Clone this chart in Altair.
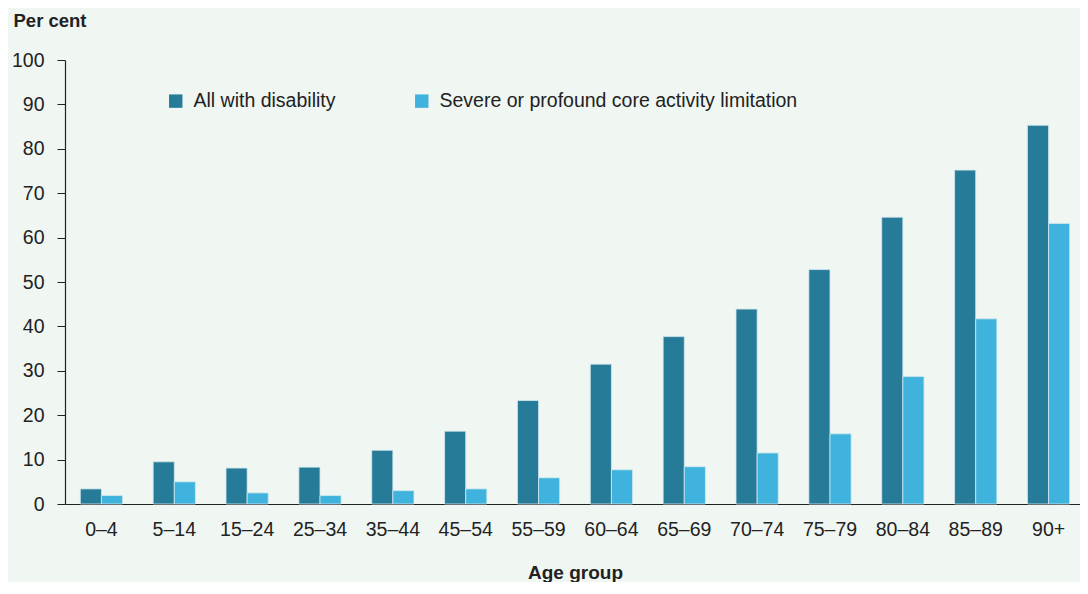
import altair as alt
import pandas as pd

ages = ["0–4", "5–14", "15–24", "25–34", "35–44", "45–54", "55–59", "60–64",
        "65–69", "70–74", "75–79", "80–84", "85–89", "90+"]
all_disability = [3.4, 9.5, 8.1, 8.3, 12.1, 16.4, 23.3, 31.5, 37.7, 43.9, 52.8, 64.6, 75.2, 85.3]
severe = [1.9, 5.0, 2.5, 1.9, 3.0, 3.4, 5.9, 7.7, 8.4, 11.5, 15.8, 28.7, 41.7, 63.2]
series = ["All with disability", "Severe or profound core activity limitation"]
colors = ["#267B99", "#3FB3DE"]

rows = []
for a, v1, v2 in zip(ages, all_disability, severe):
    rows.append({"age": a, "series": series[0], "value": v1})
    rows.append({"age": a, "series": series[1], "value": v2})
df = pd.DataFrame(rows)

FONT = "Liberation Sans"
FS = 19.5
TXT = "#222222"

chart = alt.Chart(df).mark_bar(stroke="#d3e9ee", strokeWidth=0.8).encode(
    x=alt.X("age:N", sort=ages,
            scale=alt.Scale(paddingInner=0.42, paddingOuter=0.21, range=[0, 1020]),
            axis=alt.Axis(title="Age group", labelAngle=0, ticks=False, tickSize=0,
                          labelPadding=16, labelFontSize=FS, labelColor=TXT,
                          titleFontSize=19, titleFontWeight="bold", titleColor=TXT,
                          titleY=74, titleBaseline="alphabetic",
                          domainColor=TXT, domainWidth=1.2)),
    xOffset=alt.XOffset("series:N", sort=series, scale=alt.Scale(paddingInner=0, paddingOuter=0)),
    y=alt.Y("value:Q", scale=alt.Scale(domain=[0, 100], nice=False),
            axis=alt.Axis(title="Per cent", values=list(range(0, 101, 10)), grid=False,
                          tickSize=8, tickColor=TXT, labelPadding=13,
                          labelFontSize=FS, labelColor=TXT,
                          domainColor=TXT, domainWidth=1.2,
                          titleAngle=0, titleAlign="left", titleBaseline="alphabetic",
                          titleX=-52, titleY=-34, titleFontSize=18.5,
                          titleFontWeight="bold", titleColor=TXT)),
    color=alt.Color("series:N", sort=series,
                    scale=alt.Scale(domain=series, range=colors),
                    legend=alt.Legend(title=None, orient="none", legendX=101, legendY=31,
                                      direction="horizontal", columns=2, columnPadding=76,
                                      symbolType="square", symbolSize=180, symbolStrokeWidth=0,
                                      labelFontSize=FS, labelColor=TXT, labelOffset=8,
                                      labelLimit=600, padding=0)),
).properties(
    width=1015, height=444,
    padding={"left": 57, "top": 52, "right": 0, "bottom": 78},
    autosize=alt.AutoSizeParams(type="none"),
    background="#F0F6F2",
).configure(
    font=FONT
).configure_view(
    stroke=None
)

chart.save("out.html", embed_options={"renderer": "svg", "actions": False})
